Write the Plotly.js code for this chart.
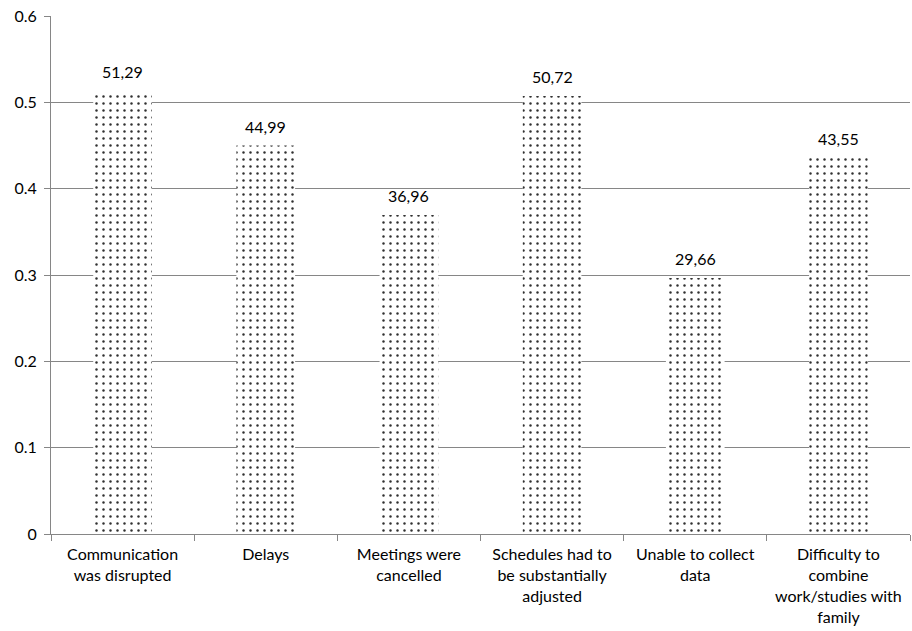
<!DOCTYPE html>
<html><head><meta charset="utf-8">
<script src="https://cdn.plot.ly/plotly-3.0.1.min.js"></script>
<style>body{margin:0;background:#fff}#c{width:912px;height:631px}</style>
</head><body><div id="c"></div>
<script>
var categories = ["Communication<br>was disrupted","Delays","Meetings were<br>cancelled","Schedules had to<br>be substantially<br>adjusted","Unable to collect<br>data","Difficulty to<br>combine<br>work/studies with<br>family"];
var values = [0.5129, 0.4499, 0.3696, 0.5072, 0.2966, 0.4355];
var labels = ["51,29","44,99","36,96","50,72","29,66","43,55"];
var yTicks = [0,0.1,0.2,0.3,0.4,0.5,0.6];

var font = "Lato, 'Open Sans', sans-serif";
var trace = {
  type: "bar", x: categories, y: values,
  marker: {color: "#ffffff", line: {width: 0},
    pattern: {shape: ".", fgcolor: "#303030", bgcolor: "#ffffff", size: 7, solidity: 0.1}},
  hoverinfo: "none"
};
var annotations = categories.map(function(c,i){
  return {x: c, y: values[i], text: labels[i], showarrow: false, yanchor: "bottom", yshift: 8,
    font: {family: font, size: 16, color: "#000"}};
});
var layout = {
  width: 912, height: 631,
  margin: {l: 51, r: 2, t: 16, b: 97},
  paper_bgcolor: "#fff", plot_bgcolor: "#fff",
  bargap: 0.59, showlegend: false,
  font: {family: font, size: 16, color: "#000"},
  xaxis: {showline: true, linecolor: "#868686", linewidth: 1, ticks: "outside", tickson: "boundaries",
    ticklen: 6, tickcolor: "#868686", showgrid: false, tickfont: {family: font, size: 16}, fixedrange: true,
    ticklabelstandoff: 6},
  yaxis: {range: [0, 0.6], tickvals: yTicks, ticktext: yTicks.map(String), showline: true, linecolor: "#868686",
    ticks: "outside", ticklen: 6, tickcolor: "#868686", showgrid: true, gridcolor: "#868686", gridwidth: 1,
    zeroline: false, tickfont: {family: font, size: 16}, ticklabelstandoff: 4},
  annotations: annotations
};
Plotly.newPlot("c", [trace], layout, {staticPlot: true});
</script></body></html>
